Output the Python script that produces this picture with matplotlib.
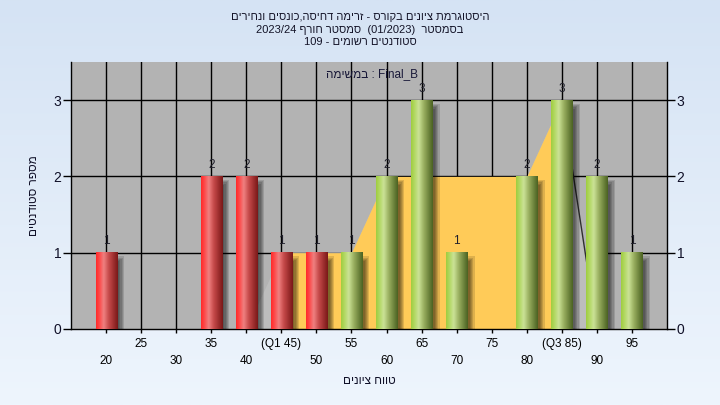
import re
import numpy as np
import matplotlib
matplotlib.use("Agg")
import matplotlib.pyplot as plt
from matplotlib.colors import LinearSegmentedColormap
from matplotlib.patches import Rectangle

plt.rcParams['font.family'] = ['Liberation Sans', 'DejaVu Sans']

# ---------------- data ----------------
grades = [20, 25, 30, 35, 40, 45, 50, 55, 60, 65, 70, 75, 80, 85, 90, 95]
counts = [1, 0, 0, 2, 2, 1, 1, 1, 2, 3, 1, 0, 2, 3, 2, 1]
pass_grade = 55
q1_grade = 45
q3_grade = 85
area_values = [0, 0, 0, 0, 0, 1, 1, 1, 2, 2, 2, 2, 2, 3, 0, 0]
tick_labels = ['20', '25', '30', '35', '40', '(Q1 45)', '50', '55', '60', '65',
               '70', '75', '80', '(Q3 85)', '90', '95']
y_ticks = [0, 1, 2, 3]
title_lines = ['היסטוגרמת ציונים בקורס - זרימה דחיסה,כונסים ונחירים',
               'בסמסטר  (01/2023)  סמסטר חורף 2023/24',
               'סטודנטים רשומים - 109']
task_label = 'במשימה : Final_B'
x_label = 'טווח ציונים'
y_label = 'מספר סטודנטים'

# ---------------- helpers ----------------
LTR_RUN = re.compile(r'[A-Za-z0-9_/.]+(?:[ ][A-Za-z0-9_/.]+)*')


def vis_rtl(s):
    """Visual order for a right-to-left paragraph (matplotlib has no bidi)."""
    r = s[::-1]
    r = LTR_RUN.sub(lambda m: m.group(0)[::-1], r)
    return r.translate(str.maketrans('()', ')('))


def vis_ltr(s):
    """Visual order for a left-to-right paragraph with Hebrew runs."""
    return re.sub(r'[\u0590-\u05FF]+(?:\s+[\u0590-\u05FF]+)*',
                  lambda m: m.group(0)[::-1], s)


W, H = 720, 405
fig = plt.figure(figsize=(W / 100, H / 100), dpi=100)

# background gradient
bg = fig.add_axes([0, 0, 1, 1], zorder=-10)
grad = np.linspace(0, 1, 256)[:, None]
bg_cmap = LinearSegmentedColormap.from_list('bg', ['#d5e3f4', '#eef5fd'])
bg.imshow(grad, cmap=bg_cmap, aspect='auto', extent=(0, 1, 0, 1), origin='upper')
bg.set_axis_off()

L, R, B, T = 71, 667, 329, 62
ax = fig.add_axes([L / W, 1 - B / H, (R - L) / W, (B - T) / H])
ax.set_facecolor('#b3b3b3')

x = np.arange(len(grades))
i_q1 = grades.index(q1_grade)
i_q3 = grades.index(q3_grade)

# grid
ax.set_axisbelow(True)
for xi in x:
    ax.axvline(xi, color='black', lw=1, zorder=0.5)
for yv in y_ticks[1:]:
    ax.axhline(yv, color='black', lw=1, zorder=0.5)

# area (light grey outside IQR, yellow inside)
area = np.array(area_values, dtype=float)
ax.fill_between(x, 0, area, color='#bdbdbd', lw=0, zorder=1)
ax.fill_between(x[i_q1:i_q3 + 1], 0, area[i_q1:i_q3 + 1], color='#ffcb58', lw=0, zorder=1.1)
ax.plot(x[i_q3:i_q3 + 2], area[i_q3:i_q3 + 2], color='#303030', lw=1, zorder=1.2)

# bars
red_cmap = LinearSegmentedColormap.from_list(
    'red', [(0, '#ff2a2a'), (0.12, '#ff4242'), (0.35, '#ef8080'), (0.6, '#c44848'), (1, '#7a1818')])
green_cmap = LinearSegmentedColormap.from_list(
    'green', [(0, '#9fcd40'), (0.12, '#aed65a'), (0.35, '#cbe296'), (0.6, '#97ad5e'), (1, '#4b6222')])
bw = 0.6
px = 1.0 / 35.0          # one pixel in x data units
py = 1.0 / 76.3          # one pixel in y data units
gimg = np.linspace(0, 1, 64)[None, :]
for xi, h, g in zip(x, counts, grades):
    if h == 0:
        continue
    # soft shadow
    for k in range(5):
        grow = (k - 2) * 1.2
        ax.add_patch(Rectangle((xi - bw / 2 + 5 * px - grow * px, -10 * py),
                               bw + 2 * grow * px, h + 4 * py + grow * py,
                               facecolor='black', alpha=0.13, lw=0, zorder=2))
    cmap = green_cmap if g >= pass_grade else red_cmap
    ax.imshow(gimg, cmap=cmap, aspect='auto', interpolation='bilinear',
              extent=(xi - bw / 2, xi + bw / 2, 0, h), zorder=3)
    ax.annotate(str(h), (xi, h), xytext=(0, 4), textcoords='offset points',
                ha='center', va='bottom', fontsize=8.5, color='#20202c', zorder=4)

ax.set_xlim(-1, len(grades))
ax.set_ylim(0, 3.5)

# ticks
ax.set_xticks(x[::2])
ax.set_xticklabels(tick_labels[::2])
ax.set_xticks(x[1::2], minor=True)
ax.set_xticklabels(tick_labels[1::2], minor=True)
ax.tick_params(axis='x', which='both', direction='out', length=3, width=1,
               labelsize=8.5, colors='black')
ax.tick_params(axis='x', which='major', pad=16)
ax.tick_params(axis='x', which='minor', pad=3.5)

ax.set_yticks(y_ticks)
ax.tick_params(axis='y', which='both', left=True, right=True, labelleft=True,
               labelright=True, direction='out', length=5.5, width=1,
               labelsize=10, pad=1.5, colors='black')
for lab in ax.get_yticklabels():
    lab.set_color('#101028')

for s in ['left', 'right', 'bottom']:
    ax.spines[s].set_color('black')
    ax.spines[s].set_linewidth(1)
ax.spines['top'].set_visible(False)

# axis labels
ax.set_xlabel(vis_rtl(x_label), fontsize=8.5, color='#101028')
ax.xaxis.label.set_va('center')
ax.xaxis.set_label_coords(0.5, (B - 381) / (B - T))
ax.set_ylabel(vis_rtl(y_label), fontsize=8.5, color='#101028')
ax.yaxis.label.set_va('center')
ax.yaxis.set_label_coords((34 - L) / (R - L), 0.5)

# task label inside the plot
ax.text((326 - L) / (R - L), (B - 74) / (B - T), vis_ltr(task_label),
        transform=ax.transAxes, ha='left', va='center', fontsize=8.5, color='#181838')

# title
for yc, line in zip([17, 30, 42], title_lines):
    fig.text(0.5, 1 - yc / H, vis_rtl(line), ha='center', va='center',
             fontsize=8, color='#141428')

fig.savefig('out.png', dpi=100)
